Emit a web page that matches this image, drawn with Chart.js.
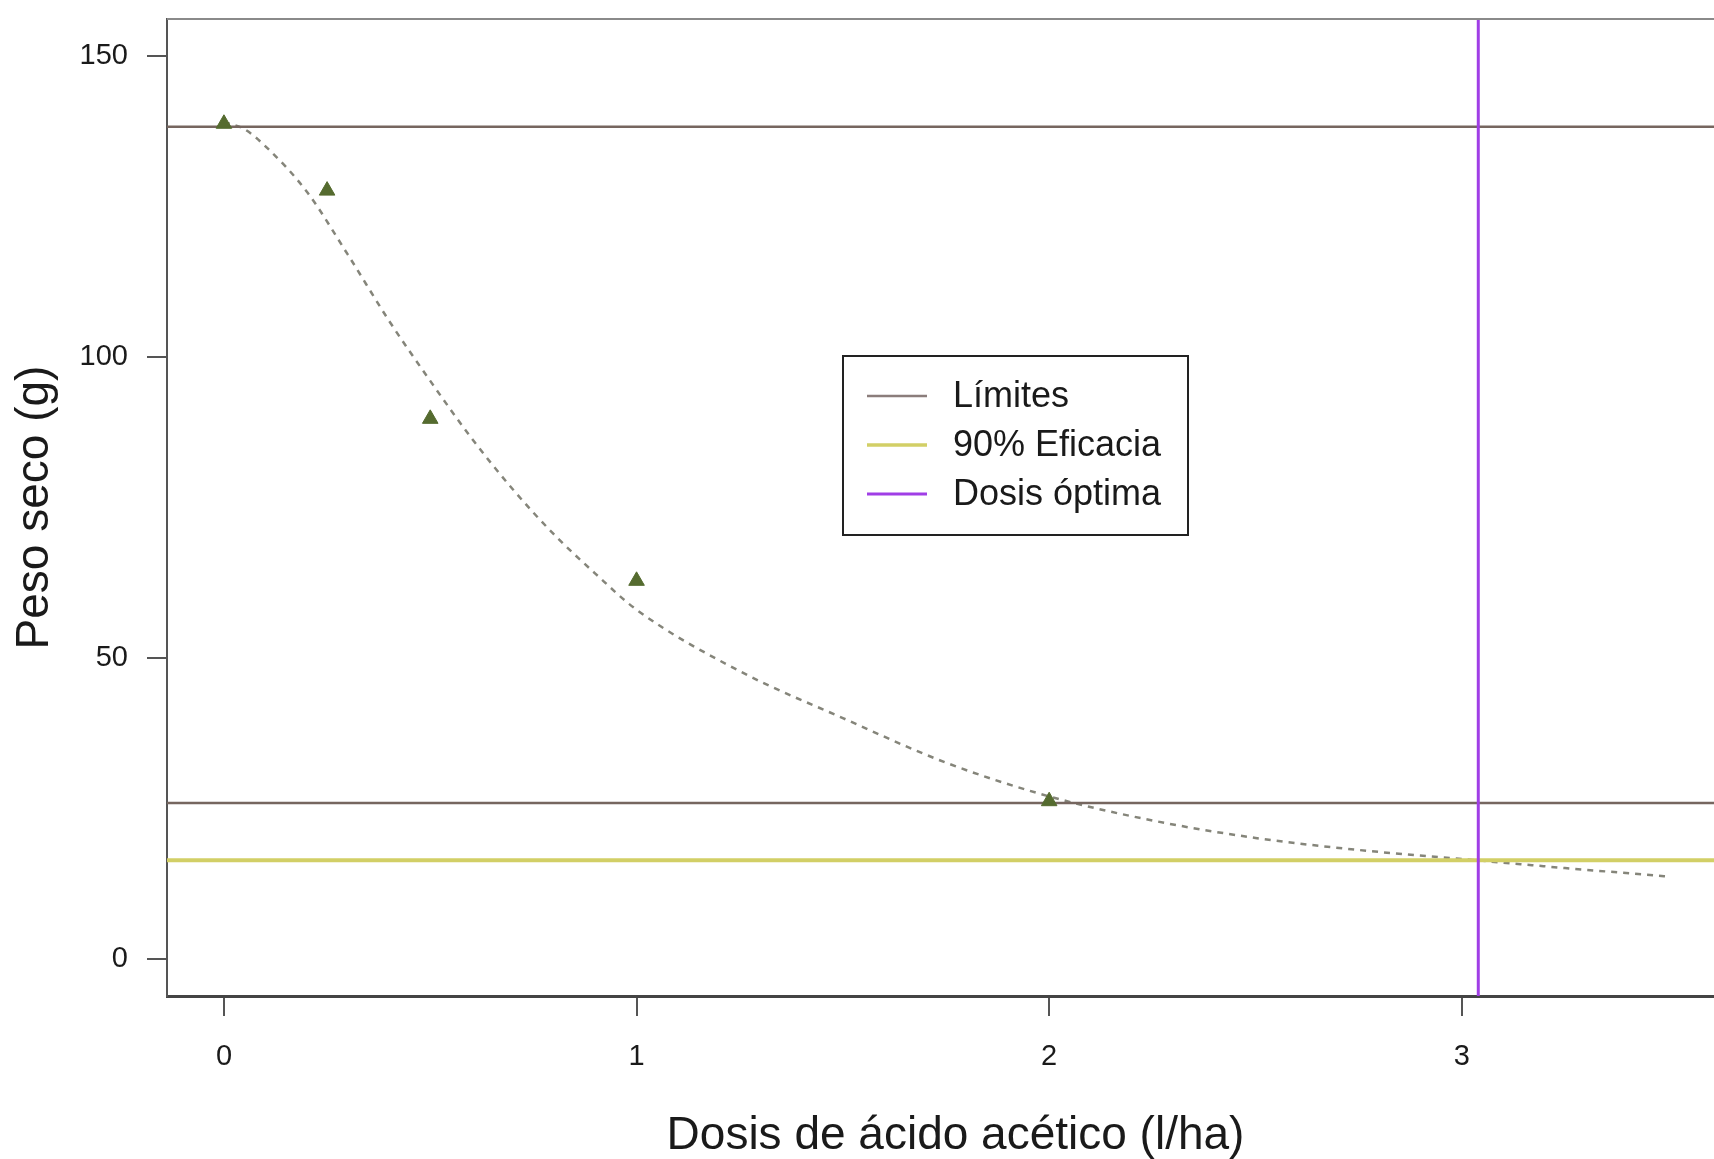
<!DOCTYPE html>
<html><head><meta charset="utf-8">
<script src="https://cdn.jsdelivr.net/npm/chart.js@4.4.1/dist/chart.umd.min.js"></script>
<style>
html,body{margin:0;padding:0;overflow:hidden;background:#fff;width:1714px;height:1159px}
#wrap{position:absolute;left:0;top:0;width:1754px;height:1159px}
</style>
</head><body><div id="wrap"><canvas id="c" width="1754" height="1159"></canvas></div>
<script>
// ---- data ----
const doseX = [0, 0.25, 0.5, 1, 2];
const dryWeight = [138.7, 127.6, 89.7, 62.8, 26.2];
const curveX = [0, 0.05, 0.1, 0.2, 0.3, 0.4, 0.5, 0.6, 0.7, 0.8, 0.9, 1.0, 1.25, 1.5, 1.75, 2.0, 2.25, 2.5, 2.75, 3.0, 3.25, 3.5];
const curveY = [139.0, 137.8, 135.0, 127.5, 117.0, 106.0, 96.0, 86.5, 78.0, 70.5, 64.0, 58.0, 47.8, 40.0, 32.6, 27.0, 23.0, 20.1, 18.1, 16.6, 15.1, 13.7];
const upperLimit = 138.2;
const lowerLimit = 25.9;
const efficacy90 = 16.4;
const optimalDose = 3.04;
const xTicks = [0, 1, 2, 3];
const yTicks = [0, 50, 100, 150];
const xRange = [-0.138, 3.684];
const yRange = [-6.15, 156.1];
const legendLabels = ['Límites', '90% Eficacia', 'Dosis óptima'];
const xTitle = 'Dosis de ácido acético (l/ha)';
const yTitle = 'Peso seco (g)';

const FONT = '"Liberation Sans", Arial, Helvetica, sans-serif';
const C_LIMIT = '#76665f', C_EFF = '#d2cf66', C_OPT = '#a03ee6', C_PTS = '#556B2F', C_CURVE = '#85857a';

const pts = (xs, ys) => xs.map((x, i) => ({x, y: ys[i]}));

const topBorder = {
  id: 'topBorder',
  afterDraw(chart) {
    const {ctx, chartArea: a} = chart;
    ctx.save();
    ctx.strokeStyle = '#8a8a8a'; ctx.lineWidth = 2;
    ctx.beginPath(); ctx.moveTo(a.left, a.top); ctx.lineTo(a.right, a.top); ctx.stroke();
    ctx.restore();
  }
};

const legendBox = {
  id: 'legendBox',
  afterDraw(chart) {
    const ctx = chart.ctx;
    const x0 = 843, y0 = 356, w = 345, h = 179;
    const colors = ['#8B7D7B', C_EFF, C_OPT];
    const widths = [2.5, 3.5, 3];
    ctx.save();
    ctx.fillStyle = '#fff';
    ctx.fillRect(x0, y0, w, h);
    ctx.strokeStyle = '#222'; ctx.lineWidth = 2;
    ctx.strokeRect(x0, y0, w, h);
    ctx.font = '36px ' + FONT;
    ctx.textBaseline = 'middle';
    ctx.textAlign = 'left';
    legendLabels.forEach((t, i) => {
      const y = 396 + i * 49;
      ctx.strokeStyle = colors[i]; ctx.lineWidth = widths[i];
      ctx.beginPath(); ctx.moveTo(867, y); ctx.lineTo(927, y); ctx.stroke();
      ctx.fillStyle = '#1a1a1a';
      ctx.fillText(t, 953, y + 1);
    });
    ctx.restore();
  }
};

new Chart(document.getElementById('c'), {
  type: 'line',
  data: {
    datasets: [
      { label: 'pts', data: pts(doseX, dryWeight), showLine: false, pointStyle: 'triangle',
        pointRadius: 9, pointBackgroundColor: C_PTS, pointBorderColor: C_PTS, pointBorderWidth: 1 },
      { label: 'opt', data: [{x: optimalDose, y: yRange[0]}, {x: optimalDose, y: yRange[1]}],
        borderColor: C_OPT, borderWidth: 3, pointRadius: 0 },
      { label: 'eff', data: [{x: xRange[0], y: efficacy90}, {x: xRange[1], y: efficacy90}],
        borderColor: C_EFF, borderWidth: 4, pointRadius: 0 },
      { label: 'up', data: [{x: xRange[0], y: upperLimit}, {x: xRange[1], y: upperLimit}],
        borderColor: C_LIMIT, borderWidth: 2.5, pointRadius: 0 },
      { label: 'low', data: [{x: xRange[0], y: lowerLimit}, {x: xRange[1], y: lowerLimit}],
        borderColor: C_LIMIT, borderWidth: 2.5, pointRadius: 0 },
      { label: 'curve', data: pts(curveX, curveY), borderColor: C_CURVE, borderWidth: 2.5,
        borderDash: [6, 6], pointRadius: 0, cubicInterpolationMode: 'monotone', tension: 0.4 }
    ]
  },
  options: {
    responsive: false, animation: false, devicePixelRatio: 1,
    layout: { padding: { top: 19, left: 0, right: 0, bottom: 0 } },
    plugins: { legend: { display: false }, tooltip: { enabled: false } },
    scales: {
      x: {
        type: 'linear', min: xRange[0], max: xRange[1],
        afterBuildTicks: s => { s.ticks = xTicks.map(v => ({value: v})); },
        afterFit: s => { s.height = 163; s.paddingLeft = 0; s.paddingRight = 0; },
        grid: { display: true, drawOnChartArea: false, drawTicks: true, tickLength: 20, color: '#555', lineWidth: 2 },
        border: { display: true, color: '#444', width: 3 },
        ticks: { font: { family: FONT, size: 29 }, color: '#1a1a1a', padding: 24, maxRotation: 0, autoSkip: false },
        title: { display: true, text: xTitle, color: '#1a1a1a', font: { family: FONT, size: 46, lineHeight: 1.0 }, padding: { top: 0, bottom: 0 } }
      },
      y: {
        type: 'linear', min: yRange[0], max: yRange[1],
        afterBuildTicks: s => { s.ticks = yTicks.map(v => ({value: v})); },
        afterFit: s => { s.width = 167; s.paddingTop = 0; s.paddingBottom = 0; },
        grid: { display: true, drawOnChartArea: false, drawTicks: true, tickLength: 20, color: '#555', lineWidth: 2 },
        border: { display: true, color: '#555', width: 2 },
        ticks: { font: { family: FONT, size: 29 }, color: '#1a1a1a', padding: 19, autoSkip: false },
        title: { display: true, text: yTitle, color: '#1a1a1a', font: { family: FONT, size: 46, lineHeight: 1.2 }, padding: { top: 8, bottom: 0 } }
      }
    }
  },
  plugins: [topBorder, legendBox]
});
</script>
</body></html>
